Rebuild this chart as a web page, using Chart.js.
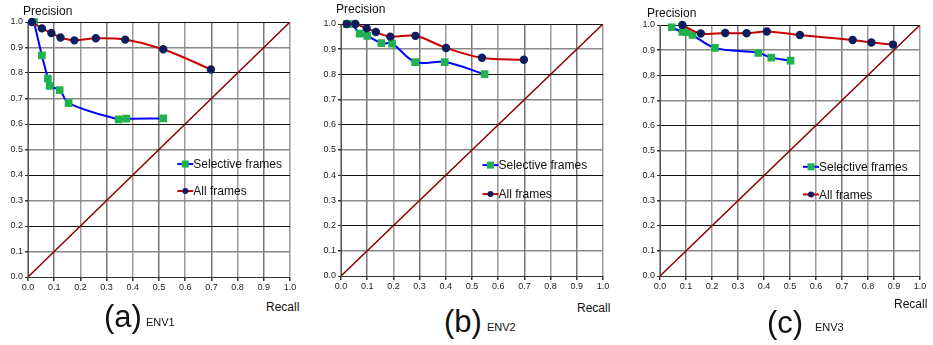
<!DOCTYPE html>
<html>
<head>
<meta charset="utf-8">
<script src="https://cdn.jsdelivr.net/npm/chart.js@4.4.1/dist/chart.umd.min.js"></script>
<style>
  body { margin: 0; background: #fff; }
  #wrap { position: relative; width: 933px; height: 345px; overflow: hidden; font-family: "Liberation Sans", Arial, sans-serif; color: #111; }
  canvas { position: absolute; }
  .lbl { position: absolute; line-height: 1; white-space: nowrap; }
</style>
</head>
<body>
<div id="wrap">
  <canvas id="envA" width="300" height="290" style="left:0px;top:10px"></canvas>
  <canvas id="envB" width="303" height="290" style="left:310px;top:10px"></canvas>
  <canvas id="envC" width="305" height="290" style="left:625px;top:10px"></canvas>

  <div class="lbl" style="left:23px;top:5px;font-size:12px">Precision</div>
  <div class="lbl" style="left:266px;top:301px;font-size:12px">Recall</div>
  <div class="lbl" style="left:104px;top:301px;font-size:31px">(a)</div>
  <div class="lbl" style="left:146px;top:317px;font-size:11px">ENV1</div>

  <div class="lbl" style="left:336px;top:3px;font-size:12px">Precision</div>
  <div class="lbl" style="left:577px;top:302px;font-size:12px">Recall</div>
  <div class="lbl" style="left:444px;top:306px;font-size:31px">(b)</div>
  <div class="lbl" style="left:487px;top:322px;font-size:11px">ENV2</div>

  <div class="lbl" style="left:647px;top:7px;font-size:12px">Precision</div>
  <div class="lbl" style="left:894px;top:298px;font-size:12px">Recall</div>
  <div class="lbl" style="left:767px;top:307px;font-size:31px">(c)</div>
  <div class="lbl" style="left:815px;top:322px;font-size:11px">ENV3</div>
</div>
<script>
// ENV1
const recallAllA = [0.015, 0.053, 0.089, 0.124, 0.177, 0.259, 0.371, 0.516, 0.698];
const precAllA   = [1.0, 0.975, 0.957, 0.939, 0.928, 0.936, 0.931, 0.893, 0.814];
const recallSelA = [0.023, 0.053, 0.076, 0.083, 0.121, 0.155, 0.346, 0.375, 0.516];
const precSelA   = [1.0, 0.869, 0.778, 0.749, 0.733, 0.682, 0.618, 0.621, 0.622];

// ENV2
const recallAllB = [0.022, 0.055, 0.098, 0.133, 0.188, 0.284, 0.401, 0.538, 0.698];
const precAllB   = [1.0, 1.0, 0.983, 0.968, 0.95, 0.953, 0.905, 0.866, 0.858];
const recallSelB = [0.022, 0.041, 0.071, 0.1, 0.154, 0.195, 0.283, 0.396, 0.548];
const precSelB   = [1.0, 1.0, 0.962, 0.953, 0.924, 0.922, 0.849, 0.849, 0.801];

// ENV3
const recallAllC = [0.086, 0.157, 0.251, 0.333, 0.411, 0.538, 0.741, 0.813, 0.896];
const precAllC   = [1.0, 0.966, 0.968, 0.967, 0.974, 0.96, 0.94, 0.93, 0.922];
const recallSelC = [0.045, 0.086, 0.102, 0.125, 0.211, 0.378, 0.428, 0.502];
const precSelC   = [0.991, 0.972, 0.971, 0.96, 0.909, 0.889, 0.87, 0.858];

// reference diagonal (precision = recall)
const diagRecall = [0, 1];
const diagPrec   = [0, 1];

const tickValues = [0, 0.1, 0.2, 0.3, 0.4, 0.5, 0.6, 0.7, 0.8, 0.9, 1.0];

const pts = (xs, ys) => xs.map((x, i) => ({ x: x, y: ys[i] }));

const legendInside = {
  id: 'legendInside',
  afterDatasetsDraw(chart, args, opts) {
    const ctx = chart.ctx;
    const xs = chart.scales.x, ys = chart.scales.y;
    ctx.save();
    ctx.font = '12px "Liberation Sans", Arial, sans-serif';
    ctx.textBaseline = 'middle';
    opts.items.forEach((it, i) => {
      const ds = chart.data.datasets[it.ds];
      const x0 = xs.getPixelForValue(opts.x);
      const y = ys.getPixelForValue(opts.y[i]);
      ctx.strokeStyle = ds.borderColor;
      ctx.lineWidth = 2;
      ctx.beginPath();
      ctx.moveTo(x0, y);
      ctx.lineTo(x0 + 16, y);
      ctx.stroke();
      ctx.fillStyle = ds.pointBackgroundColor;
      if (ds.pointStyle === 'rect') {
        ctx.fillRect(x0 + 4.5, y - 3.5, 7, 7);
      } else {
        ctx.beginPath();
        ctx.arc(x0 + 8, y, 3, 0, Math.PI * 2);
        ctx.fill();
      }
      ctx.fillStyle = '#111';
      ctx.fillText(ds.label, x0 + 16, y + 1);
    });
    ctx.restore();
  }
};

function makeChart(id, cfg) {
  const datasets = [
    {
      label: 'Selective frames',
      data: pts(cfg.selR, cfg.selP),
      borderColor: '#0000ff',
      borderWidth: 2,
      pointStyle: 'rect',
      pointRadius: 4,
      pointBackgroundColor: '#1fb24f',
      pointBorderColor: '#1fb24f',
      tension: 0.35,
      showLine: true,
      clip: false,
      order: 2
    },
    {
      label: 'All frames',
      data: pts(cfg.allR, cfg.allP),
      borderColor: '#cc0000',
      borderWidth: 2,
      pointStyle: 'circle',
      pointRadius: 3.2,
      pointBackgroundColor: '#0b1f5e',
      pointBorderColor: '#0b1f5e',
      tension: 0.35,
      showLine: true,
      clip: false,
      order: 1
    },
    {
      label: 'diagonal',
      data: pts(diagRecall, diagPrec),
      borderColor: '#8b0000',
      borderWidth: 1.5,
      pointRadius: 0,
      showLine: true,
      order: 3
    }
  ];

  return new Chart(document.getElementById(id), {
    type: 'scatter',
    data: { datasets: datasets },
    plugins: [legendInside],
    options: {
      responsive: false,
      animation: false,
      devicePixelRatio: 1,
      layout: { padding: { top: cfg.padTop, right: 10, left: 0, bottom: 0 } },
      plugins: {
        legend: { display: false },
        tooltip: { enabled: false },
        legendInside: { x: cfg.legX, y: cfg.legY, items: [{ ds: 0 }, { ds: 1 }] }
      },
      scales: {
        x: {
          type: 'linear',
          min: 0, max: 1,
          afterBuildTicks: s => { s.ticks = tickValues.map(v => ({ value: v })); },
          afterFit: s => { s.height = cfg.xH; },
          ticks: {
            autoSkip: false, maxRotation: 0, padding: 1,
            color: '#222',
            font: { family: '"Liberation Sans", Arial, sans-serif', size: 9 },
            callback: v => v.toFixed(1)
          },
          grid: {
            color: c => (Math.round(c.tick.value * 10) % 2 === 0 ? '#9a9a9a' : '#777'),
            lineWidth: 1.5,
            tickLength: 4,
            tickColor: '#333'
          },
          border: { color: '#333', width: 1 }
        },
        y: {
          type: 'linear',
          min: 0, max: 1,
          afterBuildTicks: s => { s.ticks = tickValues.map(v => ({ value: v })); },
          afterFit: s => { s.width = cfg.yW; },
          ticks: {
            autoSkip: false, padding: 2,
            color: '#222',
            font: { family: '"Liberation Sans", Arial, sans-serif', size: 9 },
            callback: v => v.toFixed(1)
          },
          grid: {
            color: c => (Math.round(c.tick.value * 10) % 2 === 0 ? '#111' : '#888'),
            lineWidth: c => (Math.round(c.tick.value * 10) % 2 === 0 ? 1 : 1.5),
            tickLength: 3,
            tickColor: '#333'
          },
          border: { color: '#555', width: 1 }
        }
      }
    }
  });
}

makeChart('envA', {
  allR: recallAllA, allP: precAllA, selR: recallSelA, selP: precSelA,
  padTop: 12, yW: 28, xH: 23, legX: 0.57, legY: [0.443, 0.337]
});
makeChart('envB', {
  allR: recallAllB, allP: precAllB, selR: recallSelB, selP: precSelB,
  padTop: 14, yW: 31, xH: 24, legX: 0.54, legY: [0.44, 0.325]
});
makeChart('envC', {
  allR: recallAllC, allP: precAllC, selR: recallSelC, selP: precSelC,
  padTop: 15, yW: 35, xH: 24, legX: 0.55, legY: [0.435, 0.325]
});
</script>
</body>
</html>
